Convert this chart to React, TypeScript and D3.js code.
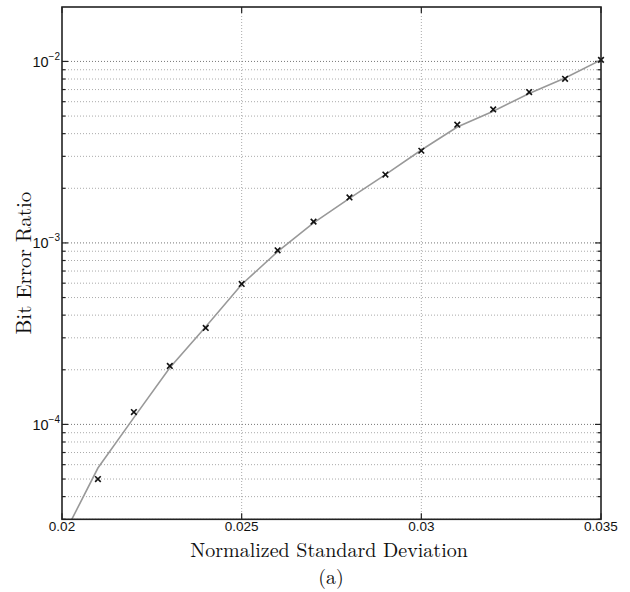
import React from "react";
import * as d3 from "d3";

const xTicks = [0.02, 0.025, 0.03, 0.035];
const xTickLabels = ["0.02", "0.025", "0.03", "0.035"];
const yMajorExps = [-2, -3, -4];

const markerX = [0.021, 0.022, 0.023, 0.024, 0.025, 0.026, 0.027, 0.028, 0.029, 0.03, 0.031, 0.032, 0.033, 0.034, 0.035];
const markerY = [5.0e-5, 1.17e-4, 2.1e-4, 3.4e-4, 5.94e-4, 9.1e-4, 1.31e-3, 1.78e-3, 2.38e-3, 3.22e-3, 4.48e-3, 5.44e-3, 6.78e-3, 8.02e-3, 1.02e-2];

const lineX = [0.02, 0.021, 0.022, 0.023, 0.024, 0.025, 0.026, 0.027, 0.028, 0.029, 0.03, 0.031, 0.032, 0.033, 0.034, 0.035];
const lineY = [2.35e-5, 5.75e-5, 1.09e-4, 2.05e-4, 3.45e-4, 5.9e-4, 8.95e-4, 1.29e-3, 1.76e-3, 2.38e-3, 3.25e-3, 4.35e-3, 5.32e-3, 6.65e-3, 8.1e-3, 1.02e-2];

const W = 630, H = 592;
const L = 62, R = 601, T = 7, B = 519.3;

export default function App() {
  const x = d3.scaleLinear().domain([0.02, 0.035]).range([L, R]);
  const y = d3.scaleLog().domain([3e-5, 1.995e-2]).range([B, T]);

  const minor: number[] = [];
  for (let e = -5; e <= -2; e++) {
    for (let m = 1; m <= 9; m++) {
      const v = m * Math.pow(10, e);
      if (v >= 3e-5 && v <= 1.995e-2) minor.push(v);
    }
  }
  const isMajor = (v: number) => Math.abs(Math.log10(v) - Math.round(Math.log10(v))) < 1e-9;

  const line = d3.line<number>().x((_, i) => x(lineX[i])).y((_, i) => y(lineY[i]));
  const pts = lineX.map((v, i) => i);

  const serif = "'Latin Modern Roman', 'CMU Serif', 'Liberation Serif', 'DejaVu Serif', serif";
  const sans = "'Liberation Sans', Arial, Helvetica, sans-serif";

  return (
    <svg width={W} height={H} style={{ position: "absolute", left: 0, top: 0, background: "#fff" }}>
      <defs>
        <clipPath id="plotclip">
          <rect x={L} y={T} width={R - L} height={B - T} />
        </clipPath>
      </defs>
      <rect x={0} y={0} width={W} height={H} fill="#fff" />
      {/* horizontal grid */}
      {minor.map((v, i) => (
        <line key={"hg" + i} x1={L} x2={R} y1={y(v)} y2={y(v)}
          stroke={isMajor(v) ? "#777" : "#aaa"} strokeWidth={1} strokeDasharray="1,2" />
      ))}
      {/* vertical grid */}
      {xTicks.slice(1, -1).map((v, i) => (
        <line key={"vg" + i} x1={x(v)} x2={x(v)} y1={T} y2={B}
          stroke="#aaa" strokeWidth={1} strokeDasharray="1,2" />
      ))}
      {/* y ticks */}
      {minor.map((v, i) => {
        const len = isMajor(v) ? 6 : 3.5;
        return (
          <g key={"yt" + i}>
            <line x1={L} x2={L + len} y1={y(v)} y2={y(v)} stroke="#222" strokeWidth={1.2} />
            <line x1={R} x2={R - len} y1={y(v)} y2={y(v)} stroke="#222" strokeWidth={1.2} />
          </g>
        );
      })}
      {/* x ticks */}
      {xTicks.map((v, i) => (
        <g key={"xt" + i}>
          <line x1={x(v)} x2={x(v)} y1={B} y2={B - 6} stroke="#222" strokeWidth={1.2} />
          <line x1={x(v)} x2={x(v)} y1={T} y2={T + 6} stroke="#222" strokeWidth={1.2} />
        </g>
      ))}
      {/* curve */}
      <g clipPath="url(#plotclip)">
        <path d={line(pts) || ""} fill="none" stroke="#999" strokeWidth={1.6} />
      </g>
      {/* markers */}
      {markerX.map((v, i) => {
        const cx = x(v), cy = y(markerY[i]), s = 2.8;
        return (
          <g key={"m" + i} stroke="#111" strokeWidth={1.6}>
            <line x1={cx - s} y1={cy - s} x2={cx + s} y2={cy + s} />
            <line x1={cx - s} y1={cy + s} x2={cx + s} y2={cy - s} />
          </g>
        );
      })}
      {/* box */}
      <rect x={L} y={T} width={R - L} height={B - T} fill="none" stroke="#222" strokeWidth={1.6} />
      {/* x tick labels */}
      {xTicks.map((v, i) => (
        <text key={"xl" + i} x={x(v)} y={531} textAnchor="middle" fontFamily={sans} fontSize={13.5} fill="#111">
          {xTickLabels[i]}
        </text>
      ))}
      {/* y tick labels */}
      {yMajorExps.map((e, i) => (
        <text key={"yl" + i} x={60} y={y(Math.pow(10, e)) + 5.5} textAnchor="end" fontFamily={sans} fontSize={14.5} fill="#111">
          10
          <tspan fontSize={10} dy={-7}>{"\u2212" + Math.abs(e)}</tspan>
        </text>
      ))}
      {/* axis titles */}
      <text x={329} y={557} textAnchor="middle" fontFamily={serif} fontSize={20} fill="#111">
        Normalized Standard Deviation
      </text>
      <text transform={`translate(31,${(T + B) / 2}) rotate(-90)`} textAnchor="middle" fontFamily={serif} fontSize={21} fill="#111">
        Bit Error Ratio
      </text>
      <text x={331} y={584} textAnchor="middle" fontFamily={serif} fontSize={20} fill="#111">
        (a)
      </text>
    </svg>
  );
}
